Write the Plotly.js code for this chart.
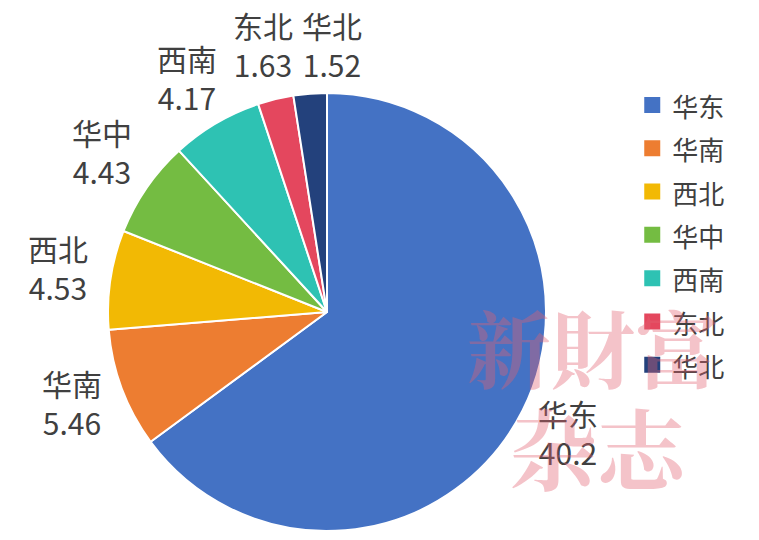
<!DOCTYPE html>
<html><head><meta charset="utf-8">
<script src="https://cdn.plot.ly/plotly-3.0.1.min.js"></script>
<style>
html,body{margin:0;padding:0;background:#fff;}
#chart path.legendpie{ d: path("M8,8H-8V-8H8Z"); stroke-width: 0 !important; }
</style>
</head><body>
<div id="chart" style="width:759px;height:540px;"></div>
<script>
const regions = ["华东","华南","西北","华中","西南","东北","华北"];
const values = [40.2,5.46,4.53,4.43,4.17,1.63,1.52];
const colors = ["#4472C4","#ED7D31","#F2B904","#74BC42","#2EC2B3","#E4475E","#23417C"];
const watermarkLines = ["新財富","杂志"];

// label placement (paper coords) - layout only
const labelPos = [[0.748,0.200],[0.095,0.254],[0.077,0.504],[0.134,0.719],[0.247,0.856],[0.347,0.917],[0.437,0.917]];

const FONT = "Noto Sans CJK SC, sans-serif";

const trace = {
  type: "pie",
  labels: regions.map(r => '<span style="font-size:26px">' + r + '</span>'),
  values: values,
  sort: false,
  direction: "clockwise",
  rotation: 0,
  marker: {colors: colors, line: {color: "#ffffff", width: 2}},
  textinfo: "none",
  hoverinfo: "skip",
  domain: {x: [108/759, 546/759], y: [1-531/540, 1-93/540]},
  automargin: false,
  showlegend: true
};

const annotations = regions.map((r, i) => ({
  text: r + "<br>" + values[i],
  x: labelPos[i][0], y: labelPos[i][1], xref: "paper", yref: "paper",
  showarrow: false, xanchor: "center", yanchor: "middle", align: "center",
  font: {family: FONT, size: 30, color: "#404040"}
}));

const wmFont = {family: "Noto Serif CJK SC, Noto Sans CJK SC, serif", color: "rgba(226,96,114,0.38)"};
annotations.push(
  {text: "<b>" + watermarkLines[0] + "</b>", x: 0.781, y: 0.361, xref: "paper", yref: "paper", showarrow: false,
   font: Object.assign({size: 84}, wmFont), xanchor: "center", yanchor: "middle"},
  {text: "<b>" + watermarkLines[1] + "</b>", x: 0.790, y: 0.176, xref: "paper", yref: "paper", showarrow: false,
   font: Object.assign({size: 88}, wmFont), xanchor: "center", yanchor: "middle"}
);

const layout = {
  width: 759, height: 540,
  margin: {l: 0, r: 0, t: 0, b: 0},
  paper_bgcolor: "#ffffff",
  showlegend: true,
  legend: {
    x: 0.833, y: 0.855, xanchor: "left", yanchor: "top",
    font: {family: FONT, size: 31, color: "#404040"},
    itemclick: false, itemdoubleclick: false
  },
  annotations: annotations
};

Plotly.newPlot("chart", [trace], layout, {displayModeBar: false, staticPlot: true});
</script>
</body></html>
